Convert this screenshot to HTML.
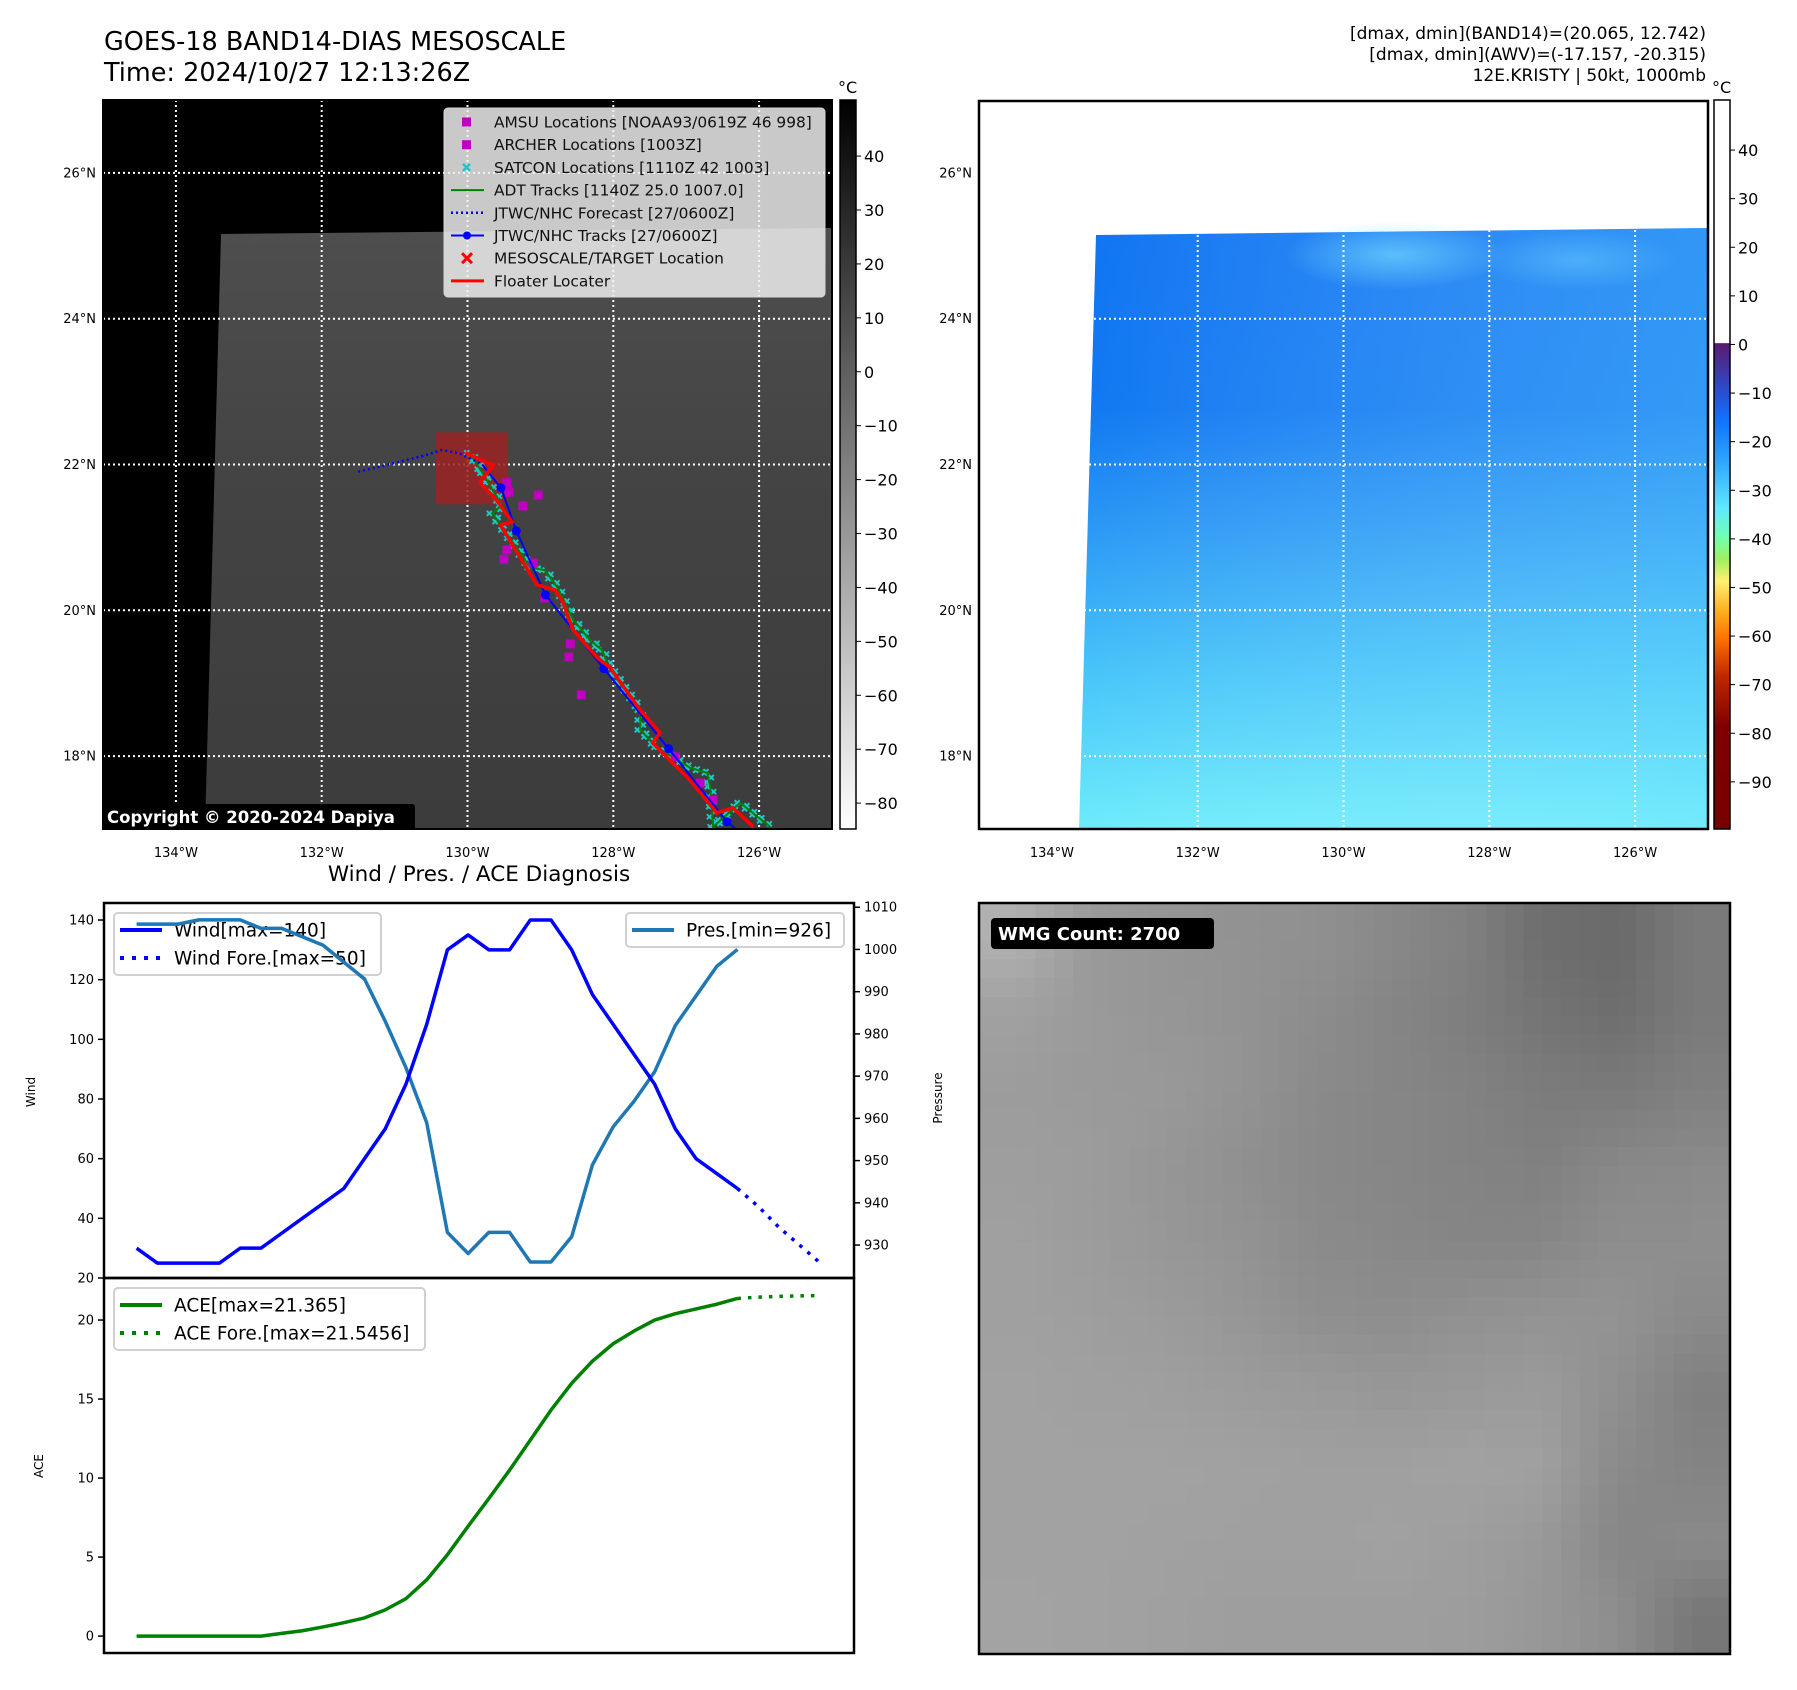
<!DOCTYPE html>
<html><head><meta charset="utf-8">
<style>
html,body{margin:0;padding:0;background:#fff;}
svg{display:block;font-family:"DejaVu Sans","Liberation Sans",sans-serif;}
</style></head>
<body>
<svg id="root" width="1797" height="1690" viewBox="0 0 1797 1690" xmlns="http://www.w3.org/2000/svg">
<defs>
<linearGradient id="irGray" x1="0" y1="0" x2="0" y2="1">
<stop offset="0" stop-color="#4e4e4e"/><stop offset="0.45" stop-color="#434343"/><stop offset="1" stop-color="#3c3c3c"/>
</linearGradient>
<linearGradient id="cbGray" x1="0" y1="0" x2="0" y2="1">
<stop offset="0" stop-color="#000"/><stop offset="1" stop-color="#fff"/>
</linearGradient>
<linearGradient id="wvBlue" x1="0" y1="0" x2="0" y2="1">
<stop offset="0" stop-color="#0f74f2"/><stop offset="0.3" stop-color="#1078f2"/><stop offset="0.5" stop-color="#2a98f5"/><stop offset="0.75" stop-color="#48c6f9"/><stop offset="1" stop-color="#6decfb"/>
</linearGradient>
<linearGradient id="wvRight" x1="0" y1="0" x2="1" y2="0">
<stop offset="0" stop-color="#ffffff" stop-opacity="0"/><stop offset="1" stop-color="#7fe8ff" stop-opacity="0.3"/>
</linearGradient>
<radialGradient id="wvCloud" cx="0.5" cy="0.5" r="0.5">
<stop offset="0" stop-color="#7ee4ff" stop-opacity="0.6"/><stop offset="1" stop-color="#7ee4ff" stop-opacity="0"/>
</radialGradient>
<linearGradient id="cbWv" x1="0" y1="0" x2="0" y2="1">
<stop offset="0" stop-color="#ffffff"/><stop offset="0.333" stop-color="#ffffff"/>
<stop offset="0.334" stop-color="#5a1a70"/><stop offset="0.40" stop-color="#2a4ed0"/><stop offset="0.44" stop-color="#0f74ff"/>
<stop offset="0.50" stop-color="#30aaff"/><stop offset="0.56" stop-color="#60e8ff"/><stop offset="0.60" stop-color="#70ffb0"/>
<stop offset="0.63" stop-color="#a0f060"/><stop offset="0.66" stop-color="#fff070"/><stop offset="0.70" stop-color="#ffb020"/>
<stop offset="0.74" stop-color="#ff7000"/><stop offset="0.79" stop-color="#c02800"/><stop offset="0.86" stop-color="#800000"/><stop offset="1" stop-color="#7a0000"/>
</linearGradient>
<clipPath id="clipL"><rect x="103" y="100" width="729" height="729"/></clipPath>
<clipPath id="clipR"><rect x="979" y="101" width="729" height="728"/></clipPath>
<clipPath id="clipW"><rect x="979" y="903" width="751" height="751"/></clipPath>
</defs>
</svg>
<script>
// ---------- data ----------
const windVals = [30,25,25,25,25,30,30,35,40,45,50,60,70,85,105,130,135,130,130,140,140,130,115,105,95,85,70,60,55,50];
const windForeVals = [50,44,37,31,25];
const presVals = [1006,1006,1006,1007,1007,1007,1005,1005,1003,1001,997,993,983,972,959,933,928,933,933,926,926,932,949,958,964,971,982,989,996,1000];
const aceVals = [0,0,0,0,0,0,0,0.17,0.34,0.58,0.85,1.15,1.66,2.37,3.56,5.15,6.95,8.7,10.5,12.4,14.3,16.0,17.4,18.5,19.3,20.0,20.4,20.7,21.0,21.365];
const aceForeVals = [21.365,21.45,21.5,21.53,21.5456];
const windTicks = [20,40,60,80,100,120,140];
const presTicks = [930,940,950,960,970,980,990,1000,1010];
const aceTicks = [0,5,10,15,20];
const lonTicks = [-134,-132,-130,-128,-126];
const latTicks = [18,20,22,24,26];
const cbIrTicks = [40,30,20,10,0,-10,-20,-30,-40,-50,-60,-70,-80];
const cbWvTicks = [40,30,20,10,0,-10,-20,-30,-40,-50,-60,-70,-80,-90];
const fcstLon = [-131.5,-131.0,-130.6,-130.35,-130.1,-129.8];
const fcstLat = [21.9,22.02,22.12,22.2,22.15,22.0];
const jtwcLon = [-129.8,-129.54,-129.33,-128.93,-128.13,-127.24,-126.44,-126.2];
const jtwcLat = [22.0,21.68,21.09,20.21,19.2,18.1,17.1,16.9];
const floatLon = [-130.03,-129.65,-129.83,-129.6,-129.39,-129.55,-129.05,-128.8,-128.69,-128.62,-128.55,-128.22,-128.05,-127.66,-127.36,-127.46,-126.95,-126.58,-126.36,-126.08];
const floatLat = [22.16,21.99,21.75,21.51,21.21,21.17,20.35,20.28,20.11,19.91,19.73,19.35,19.22,18.67,18.32,18.18,17.67,17.22,17.29,17.03];
const adtLon = [-129.97,-129.79,-129.53,-129.66,-129.14,-128.94,-128.77,-128.55,-128.32,-128.16,-128.05,-127.63,-127.63,-127.4,-126.95,-126.71,-126.67,-126.63,-126.26,-125.85];
const adtLat = [22.16,21.88,21.44,21.33,20.59,20.55,20.32,19.87,19.59,19.46,19.22,18.63,18.36,18.12,17.84,17.77,17.58,17.03,17.36,17.03];
const amsuLon = [-129.46,-129.43,-129.03,-129.24,-129.46,-129.5,-129.1,-128.94,-128.59,-128.61,-128.44,-127.15,-126.81,-126.63];
const amsuLat = [21.75,21.62,21.58,21.43,20.83,20.7,20.65,20.17,19.54,19.36,18.84,17.99,17.63,17.4];
const wmgGrid = [
[176,153,149,146,144,136,128,110,106,122],
[160,154,150,147,140,133,126,116,110,122],
[156,154,153,147,138,134,130,124,122,128],
[158,156,150,144,137,134,131,128,136,138],
[160,156,151,147,139,136,133,134,142,142],
[160,158,155,150,143,141,145,147,147,138],
[162,160,159,156,154,151,153,155,143,128],
[162,162,162,161,160,160,162,160,138,131],
[162,162,161,160,160,161,158,153,134,138],
[163,162,160,158,158,158,157,151,142,119]];

const NS='http://www.w3.org/2000/svg';
const root=document.getElementById('root');
function mk(tag,attrs,parent){const e=document.createElementNS(NS,tag);for(const k in attrs)e.setAttribute(k,attrs[k]);(parent||root).appendChild(e);return e;}
function txt(s,attrs,parent){const e=mk('text',attrs,parent);e.textContent=s;return e;}
function fmt(v){return v<0?'\u2212'+Math.abs(v):String(v);}

// ---------- titles ----------
let t;
t=txt('GOES-18 BAND14-DIAS MESOSCALE',{x:104,y:50,'font-size':25.5});


t=txt('Time: 2024/10/27 12:13:26Z',{x:104,y:81,'font-size':25.5});


const rtLines=['[dmax, dmin](BAND14)=(20.065, 12.742)','[dmax, dmin](AWV)=(-17.157, -20.315)','12E.KRISTY | 50kt, 1000mb'];
rtLines.forEach((s,i)=>{const e=txt(s,{x:1706,y:39+i*21,'font-size':17,'text-anchor':'end'});

});

// ---------- map helpers ----------
function mapX(lon,x0){return x0+(lon+135)*72.9;}
function mapY(lat){return 100+(27-lat)*72.9;}

// ---------- left IR map ----------
const gL=mk('g',{});


const LX=103;
mk('rect',{x:103,y:100,width:729,height:729,fill:'#000'},gL);
const irPoly=mk('polygon',{points:'221,234 832,228 832,829 205,829',fill:'url(#irGray)'},gL);


const gLc=mk('g',{'clip-path':'url(#clipL)'},gL);
lonTicks.forEach(l=>{const x=mapX(l,LX);const e=mk('line',{x1:x,y1:100,x2:x,y2:829,stroke:'#fff','stroke-width':2,'stroke-dasharray':'2,3'},gLc);

});
latTicks.forEach(l=>{const y=mapY(l);const e=mk('line',{x1:103,y1:y,x2:832,y2:y,stroke:'#fff','stroke-width':2,'stroke-dasharray':'2,3'},gLc);

});
const tb=mk('rect',{x:mapX(-130.43,LX),y:mapY(22.44),width:72,height:72,fill:'#9b2323','fill-opacity':0.85},gLc);


function pline(lons,lats,x0,attrs,parent){return mk('polyline',Object.assign({points:lons.map((l,i)=>mapX(l,x0)+','+mapY(lats[i])).join(' '),fill:'none'},attrs),parent);}
const satG=mk('g',{},gLc);


for(let i=0;i<adtLon.length-1;i++){
 const x1=mapX(adtLon[i],LX),y1=mapY(adtLat[i]),x2=mapX(adtLon[i+1],LX),y2=mapY(adtLat[i+1]);
 const d=Math.hypot(x2-x1,y2-y1);const n=Math.max(1,Math.round(d/5));
 for(let k=0;k<n;k++){const x=x1+(x2-x1)*k/n,y=y1+(y2-y1)*k/n;
  const off=(k%2?3:-3);
  mk('path',{d:`M${x-2.5+off},${y-2.5} l5,5 M${x+2.5+off},${y-2.5} l-5,5`,stroke:'#22c4c4','stroke-width':2},satG);}
}
const adt=pline(adtLon,adtLat,LX,{stroke:'#008000','stroke-width':2},gLc);


amsuLon.forEach((l,i)=>{const e=mk('rect',{x:mapX(l,LX)-4.5,y:mapY(amsuLat[i])-4.5,width:9,height:9,fill:'#c000c0'},gLc);

});
const fc=pline(fcstLon,fcstLat,LX,{stroke:'#0000ff','stroke-width':2.5,'stroke-dasharray':'2,3'},gLc);


const jt=pline(jtwcLon,jtwcLat,LX,{stroke:'#0000ff','stroke-width':2},gLc);


jtwcLon.slice(1).forEach((l,i)=>{const e=mk('circle',{cx:mapX(l,LX),cy:mapY(jtwcLat[i+1]),r:4.5,fill:'#0000ff'},gLc);

});
const fl=pline(floatLon,floatLat,LX,{stroke:'#ff0000','stroke-width':3.5},gLc);


mk('rect',{x:103,y:100,width:729,height:729,fill:'none',stroke:'#000','stroke-width':2},gL);
// legend
const lg=mk('g',{});


mk('rect',{x:444,y:108,width:381,height:189,rx:4,fill:'#f0f0f0','fill-opacity':0.84,stroke:'#d5d5d5'},lg);
const legRows=['AMSU Locations [NOAA93/0619Z 46 998]','ARCHER Locations [1003Z]','SATCON Locations [1110Z 42 1003]','ADT Tracks [1140Z 25.0 1007.0]','JTWC/NHC Forecast [27/0600Z]','JTWC/NHC Tracks [27/0600Z]','MESOSCALE/TARGET Location','Floater Locater'];
legRows.forEach((s,i)=>{const y=122+i*22.7;
 if(i<2)mk('rect',{x:462,y:y-4.5,width:9,height:9,fill:'#c000c0'},lg);
 if(i==2)mk('path',{d:`M${463},${y-3.5} l7,7 M${470},${y-3.5} l-7,7`,stroke:'#22c4c4','stroke-width':2.5},lg);
 if(i==3)mk('line',{x1:451,y1:y,x2:484,y2:y,stroke:'#008000','stroke-width':2},lg);
 if(i==4)mk('line',{x1:451,y1:y,x2:484,y2:y,stroke:'#0000ff','stroke-width':2.5,'stroke-dasharray':'2,3'},lg);
 if(i==5){mk('line',{x1:451,y1:y,x2:484,y2:y,stroke:'#0000ff','stroke-width':2},lg);mk('circle',{cx:467,cy:y,r:4,fill:'#0000ff'},lg);}
 if(i==6)mk('path',{d:`M${462},${y-5} l10,10 M${472},${y-5} l-10,10`,stroke:'#ff0000','stroke-width':3},lg);
 if(i==7)mk('line',{x1:451,y1:y,x2:484,y2:y,stroke:'#ff0000','stroke-width':3},lg);
 const e=txt(s,{x:494,y:y+5.5,'font-size':15.4,fill:'#111'},lg);
 
 
});
const cp=mk('g',{});


mk('rect',{x:102,y:804,width:313,height:26,rx:3,fill:'#000'},cp);
txt('Copyright \u00a9 2020-2024 Dapiya',{x:107,y:823,'font-size':16.5,'font-weight':'bold',fill:'#fff'},cp);
function mapTicks(x0){
 lonTicks.forEach(l=>{const e=txt((-l)+'\u00b0W',{x:mapX(l,x0),y:857,'font-size':13,'text-anchor':'middle'});
 
 });
 latTicks.forEach(l=>{const e=txt(l+'\u00b0N',{x:x0-7,y:mapY(l)+4.5,'font-size':13,'text-anchor':'end'});
 
 });
}
mapTicks(LX);
function colorbar(x,fill,ticks,vTop,vBot,name){
 const g=mk('g',{});
 
 
 mk('rect',{x:x,y:100,width:16,height:729,fill:fill,stroke:'#000','stroke-width':1.5},g);
 const sc=v=>100+(vTop-v)/(vTop-vBot)*729;
 ticks.forEach(v=>{const y=sc(v);mk('line',{x1:x+16,y1:y,x2:x+21,y2:y,stroke:'#000','stroke-width':1},g);
  const e=txt(fmt(v),{x:x+24,y:y+6,'font-size':16},g);
  
  });
 txt('\u00b0C',{x:x-2,y:93,'font-size':16},g);
}
colorbar(840,'url(#cbGray)',cbIrTicks,50.4,-84.8,'ir-colorbar');

// ---------- right WV map ----------
const RX=979;
const gR=mk('g',{});


const gRc=mk('g',{'clip-path':'url(#clipR)'},gR);
const wvPts='1096,235 1708,228 1708,829 1079,829';
const wv=mk('polygon',{points:wvPts,fill:'url(#wvBlue)'},gRc);


mk('polygon',{points:wvPts,fill:'url(#wvRight)'},gRc);
mk('ellipse',{cx:mapX(-129.3,RX),cy:255,rx:110,ry:35,fill:'url(#wvCloud)'},gRc);
mk('ellipse',{cx:mapX(-126.8,RX),cy:260,rx:100,ry:30,fill:'url(#wvCloud)','opacity':0.6},gRc);
lonTicks.forEach(l=>{const x=mapX(l,RX);mk('line',{x1:x,y1:100,x2:x,y2:829,stroke:'#fff','stroke-width':2,'stroke-dasharray':'2,3'},gRc);});
latTicks.forEach(l=>{const y=mapY(l);mk('line',{x1:979,y1:y,x2:1708,y2:y,stroke:'#fff','stroke-width':2,'stroke-dasharray':'2,3'},gRc);});
mk('rect',{x:979,y:101,width:729,height:728,fill:'none',stroke:'#000','stroke-width':2.5},gR);
mapTicks(RX);
colorbar(1714,'url(#cbWv)',cbWvTicks,50.3,-99.7,'wv-colorbar');

// ---------- WMG panel (bilinear-smoothed blocks) ----------
const gW=mk('g',{'clip-path':'url(#clipW)'});


const N=40,cs=751/N;
function gv(r,c){r=Math.max(0,Math.min(9,r));c=Math.max(0,Math.min(9,c));return wmgGrid[r][c];}
for(let r=0;r<N;r++)for(let c=0;c<N;c++){
 const fr=(r+0.5)/N*10-0.5,fc2=(c+0.5)/N*10-0.5;
 const r0=Math.floor(fr),c0=Math.floor(fc2),dr=fr-r0,dc=fc2-c0;
 const v=Math.round(gv(r0,c0)*(1-dr)*(1-dc)+gv(r0,c0+1)*(1-dr)*dc+gv(r0+1,c0)*dr*(1-dc)+gv(r0+1,c0+1)*dr*dc);
 mk('rect',{x:979+c*cs,y:903+r*cs,width:cs+0.6,height:cs+0.6,fill:`rgb(${v},${v},${v})`},gW);
}
mk('rect',{x:979,y:903,width:751,height:751,fill:'none',stroke:'#000','stroke-width':2.5});
mk('rect',{x:991,y:918,width:223,height:31,rx:4,fill:'#000'});
const wm=txt('WMG Count: 2700',{x:998,y:940,'font-size':18,'font-weight':'bold',fill:'#fff'});



// ---------- Wind / Pres / ACE chart ----------
const PL=104,PR=854,PT1=903,PB1=1278,PT2=1278,PB2=1653;
function xS(i){return 136.6+i*20.72;}
function yWind(v){return PB1-(v-20)/(145.7-20)*(PB1-PT1);}
function yPres(v){return PB1-(v-922.2)/(1011-922.2)*(PB1-PT1);}
function yAce(v){return PB2-(v+1.07)/(22.66+1.07)*(PB2-PT2);}
const ct=txt('Wind / Pres. / ACE Diagnosis',{x:479,y:881,'font-size':21.5,'text-anchor':'middle'});


function series(vals,off,xf,yf,attrs,name){const e=mk('polyline',Object.assign({points:vals.map((v,i)=>xf(i+off)+','+yf(v)).join(' '),fill:'none','stroke-linejoin':'round'},attrs));
 
 return e;}
series(presVals,0,xS,yPres,{stroke:'#1f77b4','stroke-width':3.5},'pressure-line');
series(windVals,0,xS,yWind,{stroke:'#0000ff','stroke-width':3.5},'wind-line');
series(windForeVals,windVals.length-1,xS,yWind,{stroke:'#0000ff','stroke-width':3.5,'stroke-dasharray':'3.5,7'},'wind-forecast-line');
series(aceVals,0,xS,yAce,{stroke:'#008000','stroke-width':3.5},'ace-line');
series(aceForeVals,aceVals.length-1,xS,yAce,{stroke:'#008000','stroke-width':3.5,'stroke-dasharray':'3.5,7'},'ace-forecast-line');
mk('rect',{x:PL,y:PT1,width:PR-PL,height:PB1-PT1,fill:'none',stroke:'#000','stroke-width':2.5});
mk('rect',{x:PL,y:PT2,width:PR-PL,height:PB2-PT2,fill:'none',stroke:'#000','stroke-width':2.5});
windTicks.forEach(v=>{const y=yWind(v);mk('line',{x1:PL-6,y1:y,x2:PL,y2:y,stroke:'#000','stroke-width':1.5});
 const e=txt(String(v),{x:PL-10,y:y+4.5,'font-size':13,'text-anchor':'end'});
 
 });
presTicks.forEach(v=>{const y=yPres(v);mk('line',{x1:PR,y1:y,x2:PR+6,y2:y,stroke:'#000','stroke-width':1.5});
 const e=txt(String(v),{x:PR+10,y:y+4.5,'font-size':13});
 
 });
aceTicks.forEach(v=>{const y=yAce(v);mk('line',{x1:PL-6,y1:y,x2:PL,y2:y,stroke:'#000','stroke-width':1.5});
 const e=txt(String(v),{x:PL-10,y:y+4.5,'font-size':13,'text-anchor':'end'});
 
 });
let al=txt('Wind',{x:0,y:0,'font-size':12,'text-anchor':'middle',transform:'translate(35,1092) rotate(-90)'});


al=txt('Pressure',{x:0,y:0,'font-size':12,'text-anchor':'middle',transform:'translate(942,1098) rotate(-90)'});


al=txt('ACE',{x:0,y:0,'font-size':12,'text-anchor':'middle',transform:'translate(43,1466) rotate(-90)'});


function legend(x,y,w,h,rows,name){const g=mk('g',{});
 
 
 mk('rect',{x:x,y:y,width:w,height:h,rx:4,fill:'#fff','fill-opacity':0.8,stroke:'#d0d0d0','stroke-width':2},g);
 rows.forEach((r,i)=>{const yy=y+17+i*28;
  mk('line',{x1:x+6,y1:yy,x2:x+48,y2:yy,stroke:r[1],'stroke-width':4,'stroke-dasharray':r[2]?'4,8':'none'},g);
  const e=txt(r[0],{x:x+60,y:yy+6.5,'font-size':18.5},g);
  
  });}
legend(114,913,267,62,[['Wind[max=140]','#0000ff',0],['Wind Fore.[max=50]','#0000ff',1]],'wind-legend');
legend(626,913,218,34,[['Pres.[min=926]','#1f77b4',0]],'pressure-legend');
legend(114,1288,311,62,[['ACE[max=21.365]','#008000',0],['ACE Fore.[max=21.5456]','#008000',1]],'ace-legend');
series(presVals.slice(0,12),0,xS,yPres,{stroke:'#1f77b4','stroke-width':3.5},'pressure-line-overlay');
</script>
</body></html>
